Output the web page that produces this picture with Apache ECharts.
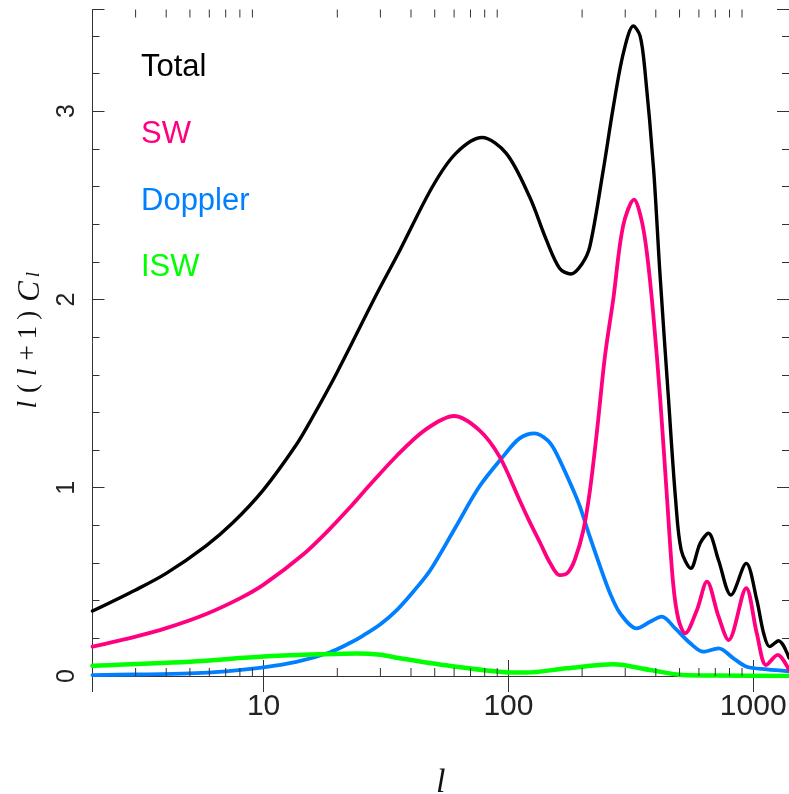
<!DOCTYPE html>
<html><head><meta charset="utf-8">
<script src="https://cdn.jsdelivr.net/npm/echarts@6/dist/echarts.min.js"></script>
<style>html,body{margin:0;padding:0;background:#fff}#c{width:789px;height:794px}</style>
</head><body><div id="c"></div>
<script>
// ---- data (multipole l, l(l+1)C_l) ----
const totalEll = [2, 3, 4, 5.8, 7.5, 10, 13.6, 15.7, 20, 29, 36, 49, 61, 78, 98, 122, 143, 162, 180, 200, 215, 244, 268, 295, 324, 345, 361, 392, 415, 451, 482, 508, 556, 607, 656, 721, 811, 936, 1034, 1103, 1166, 1270, 1400];
const totalVal = [0.345, 0.457, 0.545, 0.69, 0.815, 0.99, 1.228, 1.365, 1.615, 2.03, 2.26, 2.6, 2.776, 2.86, 2.776, 2.545, 2.315, 2.165, 2.135, 2.19, 2.28, 2.687, 3.02, 3.31, 3.452, 3.4, 3.218, 2.687, 2.156, 1.466, 0.935, 0.669, 0.572, 0.705, 0.758, 0.616, 0.43, 0.598, 0.404, 0.227, 0.156, 0.187, 0.096];

const swEll = [2, 3, 4, 5.8, 8, 10, 14.5, 18.6, 22.5, 25.5, 35, 46, 60, 76, 92, 111, 122, 135, 148, 162, 175, 187, 202, 215, 230, 248, 268, 294, 326, 350, 368, 390, 417, 445, 471, 495, 527, 589, 647, 722, 793, 936, 1034, 1130, 1259, 1400];
const swVal = [0.156, 0.209, 0.254, 0.328, 0.412, 0.485, 0.645, 0.78, 0.895, 0.975, 1.17, 1.31, 1.381, 1.306, 1.165, 0.935, 0.82, 0.705, 0.6, 0.536, 0.55, 0.62, 0.77, 0.98, 1.3, 1.7, 2.0, 2.39, 2.53, 2.42, 2.245, 1.93, 1.47, 0.935, 0.49, 0.3, 0.227, 0.351, 0.501, 0.315, 0.191, 0.466, 0.227, 0.058, 0.112, 0.032];

const dopEll = [2, 3, 5, 7, 10, 13.6, 18.6, 22.5, 25.5, 30, 35, 41, 48, 61, 76, 95, 111, 128, 145, 157, 184, 196, 215, 237, 260, 286, 334, 379, 423, 480, 553, 626, 722, 830, 941, 1137, 1400];
const dopVal = [0.005, 0.008, 0.014, 0.025, 0.046, 0.075, 0.125, 0.175, 0.215, 0.275, 0.35, 0.45, 0.563, 0.793, 1.005, 1.165, 1.262, 1.289, 1.25, 1.183, 0.988, 0.899, 0.74, 0.581, 0.44, 0.333, 0.253, 0.288, 0.315, 0.253, 0.174, 0.129, 0.147, 0.094, 0.049, 0.035, 0.025];

const iswEll = [2, 5, 10, 17, 24, 30, 36, 58, 92, 118, 173, 268, 379, 519, 700, 1400];
const iswVal = [0.055, 0.076, 0.103, 0.115, 0.12, 0.113, 0.094, 0.053, 0.023, 0.018, 0.041, 0.062, 0.032, 0.005, 0.002, 0.0];

const seriesNames = ['Total', 'SW', 'Doppler', 'ISW'];
const seriesColors = ['#000000', '#ff0080', '#0080ff', '#00ff00'];
const xMinorTicks = [3, 4, 5, 6, 7, 8, 9, 20, 30, 40, 50, 60, 70, 80, 90, 200, 300, 400, 500, 600, 700, 800, 900];

const pairs = (ls, vs) => ls.map((l, i) => [l, vs[i]]);

const chart = echarts.init(document.getElementById('c'), null, {renderer: 'canvas'});
const axisCol = '#333';
const labFont = "'Liberation Sans', sans-serif";
const serif = "'Liberation Serif', 'DejaVu Serif', serif";

function lineSeries(name, data, color, width, z) {
  return {
    name, type: 'line', data, xAxisIndex: 0, yAxisIndex: 0,
    showSymbol: false, smooth: 0.32, z,
    lineStyle: {color, width, cap: 'round', join: 'round'},
    itemStyle: {color}, silent: true
  };
}

chart.setOption({
  animation: false,
  backgroundColor: '#fff',
  grid: {left: 92.5, right: 0, top: 9.5, bottom: 118, containLabel: false, outerBoundsMode: 'none'},
  legend: {
    orient: 'vertical', left: 131, top: 47, itemGap: 35.8,
    itemWidth: 0, itemHeight: 0, icon: 'none', selectedMode: false,
    data: seriesNames.map((n, i) => ({name: n, textStyle: {color: seriesColors[i]}})),
    textStyle: {fontFamily: labFont, fontSize: 31}
  },
  xAxis: [{
    type: 'log', min: 2, max: 1400, logBase: 10, position: 'bottom',
    name: 'l', nameLocation: 'middle', nameGap: 90,
    nameTextStyle: {fontFamily: serif, fontStyle: 'italic', fontSize: 34, color: '#111'},
    axisLine: {show: true, lineStyle: {color: axisCol, width: 1}},
    axisTick: {show: true, inside: true, length: 16, lineStyle: {color: axisCol}},
    axisLabel: {show: true, margin: 16, fontFamily: labFont, fontSize: 30, color: '#222',
      showMinLabel: false, showMaxLabel: false,
      formatter: v => String(Math.round(v))},
    splitLine: {show: false}
  }, {
    type: 'log', min: 2, max: 1400, logBase: 10, position: 'top',
    axisLine: {show: true, lineStyle: {color: axisCol, width: 1}},
    axisTick: {show: true, inside: true, length: 16, lineStyle: {color: axisCol}},
    axisLabel: {show: false}, splitLine: {show: false}
  }],
  yAxis: [{
    type: 'value', min: 0, max: 3.54, interval: 1, position: 'left',
    name: '{i|l}{n|(}{i|l}{n|+}{n|1}{n|)}{c|C}{s|l}', nameLocation: 'middle', nameGap: 46,
    nameTextStyle: {
      color: '#111',
      rich: {
        i: {fontFamily: serif, fontStyle: 'italic', fontSize: 27, padding: [0, 5], color: '#111', verticalAlign: 'top', lineHeight: 28},
        n: {fontFamily: serif, fontSize: 27, padding: [0, 3], color: '#111', verticalAlign: 'top', lineHeight: 28},
        c: {fontFamily: serif, fontStyle: 'italic', fontSize: 31, padding: [0, 4, 0, 6], color: '#111', verticalAlign: 'top', lineHeight: 28},
        s: {fontFamily: serif, fontStyle: 'italic', fontSize: 19, padding: [15, 0, 0, 0], color: '#111', verticalAlign: 'bottom', lineHeight: 20}
      }
    },
    axisLine: {show: true, lineStyle: {color: axisCol, width: 1}},
    axisTick: {show: true, inside: true, length: 12, lineStyle: {color: axisCol}},
    minorTick: {show: true, splitNumber: 5, length: 7, lineStyle: {color: axisCol}},
    axisLabel: {show: true, rotate: 90, margin: 13, fontFamily: labFont, fontSize: 25, color: '#222', showMaxLabel: false},
    splitLine: {show: false}, minorSplitLine: {show: false}
  }, {
    type: 'value', min: 0, max: 3.54, interval: 1, position: 'right',
    axisLine: {show: true, lineStyle: {color: axisCol, width: 1}},
    axisTick: {show: true, inside: true, length: 12, lineStyle: {color: axisCol}},
    minorTick: {show: true, splitNumber: 5, length: 7, lineStyle: {color: axisCol}},
    axisLabel: {show: false}, splitLine: {show: false}
  }],
  series: [
    lineSeries('Doppler', pairs(dopEll, dopVal), seriesColors[2], 3.8, 3),
    lineSeries('SW', pairs(swEll, swVal), seriesColors[1], 3.8, 4),
    lineSeries('Total', pairs(totalEll, totalVal), seriesColors[0], 3.4, 5),
    lineSeries('ISW', pairs(iswEll, iswVal), seriesColors[3], 4.5, 6),
    {
      type: 'custom', name: 'xminor', xAxisIndex: 0, yAxisIndex: 0, silent: true, clip: false, z: 10,
      data: xMinorTicks.map(v => [v, 0]),
      renderItem: (params, api) => {
        const p = api.coord([api.value(0), 0]);
        const cs = params.coordSys;
        const yb = cs.y + cs.height, yt = cs.y;
        return {
          type: 'group', children: [
            {type: 'line', shape: {x1: p[0], y1: yb, x2: p[0], y2: yb - 8}, style: {stroke: axisCol, lineWidth: 1}},
            {type: 'line', shape: {x1: p[0], y1: yt, x2: p[0], y2: yt + 8}, style: {stroke: axisCol, lineWidth: 1}}
          ]
        };
      }
    }
  ]
});
</script></body></html>
